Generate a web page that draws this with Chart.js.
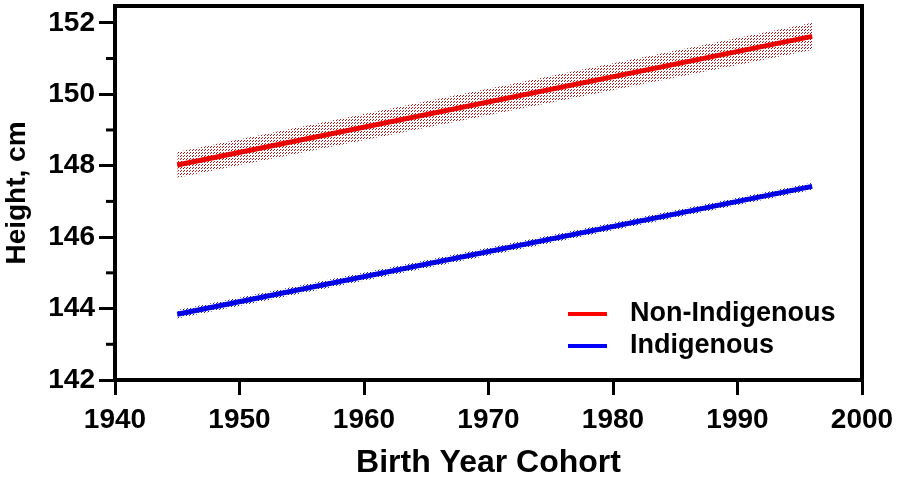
<!DOCTYPE html>
<html>
<head>
<meta charset="utf-8">
<script src="https://cdn.jsdelivr.net/npm/chart.js@4/dist/chart.umd.min.js"></script>
<style>
  html, body { margin: 0; padding: 0; background: #fff; }
  #box { width: 900px; height: 480px; }
</style>
</head>
<body>
<div id="box"><canvas id="grafico"></canvas></div>
<script>
// valores
const anos = [1945, 1996];
const naoIndigena = [148.02, 151.62];
const naoIndigenaBaixo = [147.66, 151.24];
const naoIndigenaAlto = [148.38, 152.0];
const indigena = [143.84, 147.42];
const indigenaBaixo = [143.72, 147.32];
const indigenaAlto = [143.96, 147.52];

const ticksX = [1940, 1950, 1960, 1970, 1980, 1990, 2000];
const ticksY = [142, 144, 146, 148, 150, 152];
const ticksYMenor = [143, 145, 147, 149, 151];

const fonte = "'Liberation Sans', Arial, sans-serif";

// padrao pontilhado para as faixas de confianca
function pontilhado(cor) {
  const c = document.createElement("canvas");
  c.width = 3; c.height = 3;
  const g = c.getContext("2d");
  g.fillStyle = cor;
  g.fillRect(0, 0, 1, 1);
  g.fillRect(1, 2, 1, 1);
  return g.createPattern(c, "repeat");
}

function pontos(ys) {
  return anos.map((a, i) => ({ x: a, y: ys[i] }));
}

// moldura, ticks menores e legenda
const extras = {
  id: "extras",
  afterDraw(chart) {
    const ctx = chart.ctx;
    const a = chart.chartArea;
    const y = chart.scales.y;
    ctx.save();
    ctx.strokeStyle = "#000";
    ctx.lineWidth = 4;
    ctx.beginPath();
    ctx.moveTo(a.left - 2, a.top);
    ctx.lineTo(a.right, a.top);
    ctx.lineTo(a.right, a.bottom + 2);
    ctx.stroke();

    ctx.lineWidth = 3;
    ticksYMenor.forEach((v) => {
      const py = y.getPixelForValue(v);
      ctx.beginPath();
      ctx.moveTo(a.left - 9, py);
      ctx.lineTo(a.left, py);
      ctx.stroke();
    });

    const itens = chart.data.datasets.filter((d) => d.naLegenda);
    ctx.font = "bold 27px " + fonte;
    ctx.textBaseline = "middle";
    ctx.fillStyle = "#000";
    itens.forEach((d, i) => {
      const ly = 314 + i * 32;
      ctx.strokeStyle = d.borderColor;
      ctx.lineWidth = 4;
      ctx.beginPath();
      ctx.moveTo(568, ly);
      ctx.lineTo(607, ly);
      ctx.stroke();
      ctx.fillText(d.label, 630, ly);
    });
    ctx.restore();
  }
};

const ctx = document.getElementById("grafico");

new Chart(ctx, {
  type: "line",
  data: {
    datasets: [
      {
        label: "Non-Indigenous alto",
        data: pontos(naoIndigenaAlto),
        borderWidth: 0,
        pointRadius: 0,
        fill: "+1",
        backgroundColor: pontilhado("rgba(165, 10, 10, 0.95)")
      },
      {
        label: "Non-Indigenous baixo",
        data: pontos(naoIndigenaBaixo),
        borderWidth: 0,
        pointRadius: 0,
        fill: false
      },
      {
        label: "Indigenous alto",
        data: pontos(indigenaAlto),
        borderWidth: 0,
        pointRadius: 0,
        fill: "+1",
        backgroundColor: pontilhado("rgba(10, 10, 140, 0.9)")
      },
      {
        label: "Indigenous baixo",
        data: pontos(indigenaBaixo),
        borderWidth: 0,
        pointRadius: 0,
        fill: false
      },
      {
        label: "Non-Indigenous",
        naLegenda: true,
        data: pontos(naoIndigena),
        borderColor: "#ff0000",
        borderWidth: 5,
        pointRadius: 0,
        fill: false
      },
      {
        label: "Indigenous",
        naLegenda: true,
        data: pontos(indigena),
        borderColor: "#0000ff",
        borderWidth: 5,
        pointRadius: 0,
        fill: false
      }
    ]
  },
  options: {
    responsive: true,
    maintainAspectRatio: false,
    animation: false,
    layout: { padding: { top: 6, right: 38, left: 0, bottom: 0 } },
    plugins: {
      legend: { display: false },
      tooltip: { enabled: false }
    },
    scales: {
      x: {
        type: "linear",
        min: 1940,
        max: 2000,
        afterFit: (s) => {
          s.height = 100;
          s.paddingLeft = 0;
          s.paddingRight = 0;
        },
        afterBuildTicks: (s) => { s.ticks = ticksX.map((v) => ({ value: v })); },
        border: { color: "#000", width: 4 },
        grid: { drawOnChartArea: false, color: "#000", tickLength: 15, tickWidth: 3 },
        ticks: {
          color: "#000",
          padding: 8,
          font: { family: fonte, size: 28, weight: "bold" },
          callback: (v) => String(v)
        },
        title: {
          display: true,
          text: "Birth Year Cohort",
          color: "#000",
          padding: { top: 0, bottom: -2 },
          font: { family: fonte, size: 32, weight: "bold" }
        }
      },
      y: {
        min: 142,
        max: 152.47,
        afterFit: (s) => {
          s.width = 115;
          s.paddingTop = 0;
          s.paddingBottom = 0;
        },
        afterBuildTicks: (s) => { s.ticks = ticksY.map((v) => ({ value: v })); },
        border: { color: "#000", width: 4 },
        grid: { drawOnChartArea: false, color: "#000", tickLength: 16, tickWidth: 3 },
        ticks: { color: "#000", padding: 4, font: { family: fonte, size: 28, weight: "bold" } },
        title: {
          display: true,
          text: "Height, cm",
          color: "#000",
          padding: { top: 0, bottom: 0 },
          font: { family: fonte, size: 28, weight: "bold" }
        }
      }
    }
  },
  plugins: [extras]
});
</script>
</body>
</html>
